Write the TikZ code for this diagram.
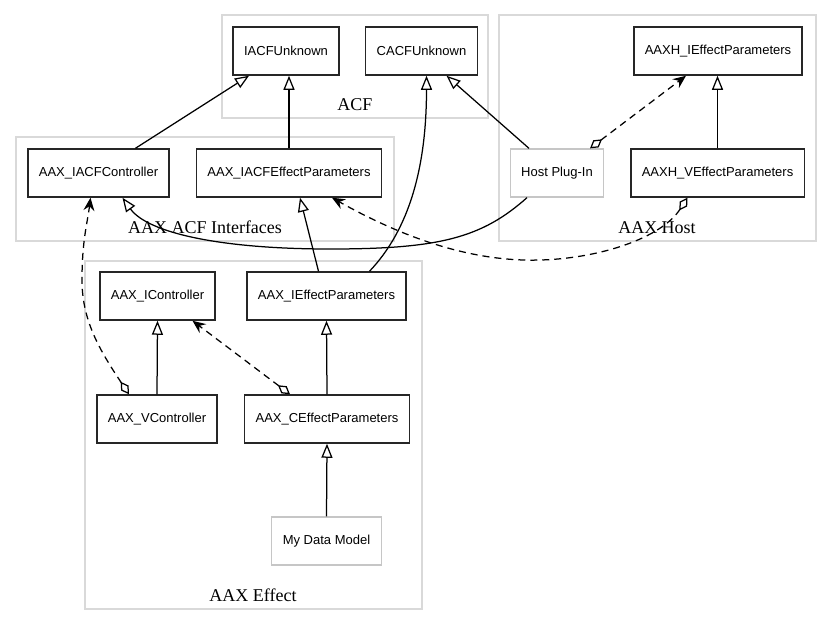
\documentclass[tikz,border=0pt]{standalone}
\usepackage{fontspec}
\setmainfont{Liberation Serif}
\newfontfamily\classfont{Liberation Sans}
\usepackage{tikz}
\usepackage{xcolor}
\usetikzlibrary{arrows.meta}

\begin{document}
\begin{tikzpicture}[x=1pt, y=-1pt, line width=1.25pt,
    classbox/.style={draw=black!85, line width=1.5pt, font=\classfont\fontsize{13}{15}\selectfont, minimum height=48pt, inner xsep=11pt},
    extbox/.style={classbox, draw=gray!45, line width=1.3pt},
    groupbox/.style={draw=gray!30, line width=1.3pt},
    grouplabel/.style={anchor=base, font=\fontsize{18}{20}\selectfont},
    inherit/.style={-{Triangle[open, length=14pt, width=11pt]}},
    uses/.style={dash pattern=on 7pt off 5pt, {Diamond[open, length=15pt, width=9pt]}-{Stealth[length=13pt, width=11pt, inset=4.5pt]}}]
    \useasboundingbox (0,0) rectangle (832,627);

    % Groups
    \draw[groupbox] (222,15) rectangle (488,118);
    \draw[groupbox] (499,15) rectangle (816,241);
    \draw[groupbox] (16,137) rectangle (394,241);
    \draw[groupbox] (85,261) rectangle (422,609);
    \node[grouplabel] (acflbl) at (355,110) {ACF};
    \node[grouplabel] (hostlbl) at (657,233) {AAX Host};
    \node[grouplabel] (ifacelbl) at (205,233) {AAX ACF Interfaces};
    \node[grouplabel] (effectlbl) at (253,601) {AAX Effect};

    % ACF and host classes
    \node[classbox] (iacfunk) at (286,51) {IACFUnknown};
    \node[classbox] (cacfunk) at (421.5,51) {CACFUnknown};
    \node[classbox] (hiparam) at (718,51) {AAXH\_IEffectParameters};
    \node[classbox] (iacfctrl) at (98.5,173) {AAX\_IACFController};
    \node[classbox] (iacfparam) at (289,173) {AAX\_IACFEffectParameters};
    \node[extbox] (hostplug) at (557,173) {Host Plug-In};
    \node[classbox] (hvparam) at (717.5,173) {AAXH\_VEffectParameters};

    % Effect classes
    \node[classbox] (ictrl) at (157.5,296) {AAX\_IController};
    \node[classbox] (iparam) at (326.5,296) {AAX\_IEffectParameters};
    \node[classbox] (vctrl) at (157,419) {AAX\_VController};
    \node[classbox] (cparam) at (327,419) {AAX\_CEffectParameters};
    \node[extbox] (datamodel) at (326.5,541) {My Data Model};

    % Inheritance
    \draw[inherit] ([xshift=37pt]iacfctrl.north) -- ([xshift=-37pt]iacfunk.south);
    \draw[inherit] (iacfparam.north) -- (iacfparam.north |- iacfunk.south);
    \draw[inherit] ([xshift=43pt]iparam.north) .. controls +(40,-42) and +(0,91) .. ([xshift=5pt]cacfunk.south);
    \draw[inherit] ([xshift=-28pt]hostplug.north) -- ([xshift=25pt]cacfunk.south);
    \draw[inherit] ([xshift=-30pt]hostplug.south) .. controls +(-45,40) and +(110,0) .. (330,249)
        .. controls +(-110,0) and +(25,35) .. ([xshift=24pt]iacfctrl.south);
    \draw[inherit] ([xshift=-8pt]iparam.north) -- ([xshift=11pt]iacfparam.south);
    \draw[inherit] (hvparam.north) -- (hvparam.north |- hiparam.south);
    \draw[inherit] (vctrl.north) -- (ictrl.south);
    \draw[inherit] (cparam.north) -- (iparam.south);
    \draw[inherit] (datamodel.north) -- (cparam.south);

    % Aggregation
    \draw[uses] ([xshift=-30pt]hvparam.south) .. controls +(-28,43) and +(64,2) .. (524,260)
        .. controls +(-74,-2) and +(50,28) .. ([xshift=43pt]iacfparam.south);
    \draw[uses] ([xshift=33pt]hostplug.north) -- ([xshift=-32pt]hiparam.south);
    \draw[uses] ([xshift=-28pt]vctrl.north) .. controls +(-30,-45) and +(0,40) .. (82,280)
        .. controls +(0,-40) and +(-3,25) .. ([xshift=-8pt]iacfctrl.south);
    \draw[uses] ([xshift=-37pt]cparam.north) -- ([xshift=35pt]ictrl.south);
\end{tikzpicture}
\end{document}
